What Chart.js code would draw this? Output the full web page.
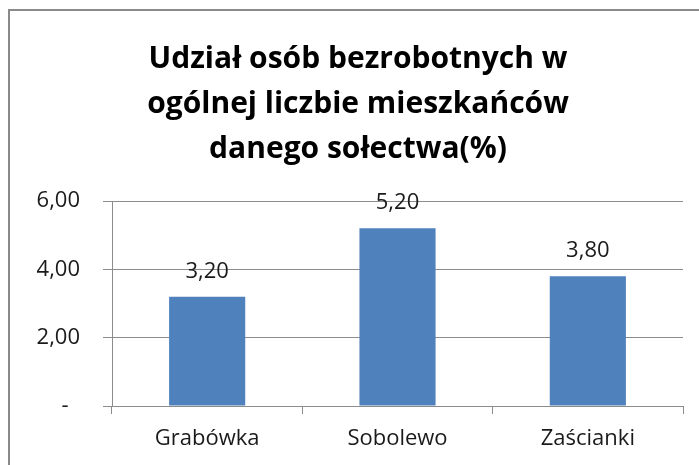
<!DOCTYPE html>
<html lang="pl">
<head>
<meta charset="utf-8">
<title>Udział osób bezrobotnych</title>
<script src="https://cdn.jsdelivr.net/npm/chart.js@4.4.1/dist/chart.umd.min.js"></script>
<style>
    html, body { margin: 0; padding: 0; background: #ffffff; overflow: hidden; }
    #wrap { position: relative; width: 699px; height: 465px; }
    /* Excel-style chart frame, cut off on the right and at the bottom */
    #frame {
        position: absolute; left: 8px; top: 9px; width: 720px; height: 500px;
        border-left: 2px solid #8a8a8a; border-top: 2px solid #8a8a8a;
        pointer-events: none;
    }
    #chart { position: absolute; left: 0; top: 0; }
</style>
</head>
<body>
<div id="wrap">
    <canvas id="chart" width="699" height="465"></canvas>
    <div id="frame"></div>
</div>
<script>
// ---- data ----
const titleLines = ['Udział osób bezrobotnych w', 'ogólnej liczbie mieszkańców', 'danego sołectwa(%)'];
const villages = ['Grabówka', 'Sobolewo', 'Zaścianki'];
const unemployedShare = [3.2, 5.2, 3.8];
const yTicks = [0, 2, 4, 6];
// accounting-style zero: dash sits a little left of the digits' right edge
const yTickLabels = ['-  ', '2,00', '4,00', '6,00'];

const FONT = '"Open Sans", Lato, sans-serif';
const GRID = '#8c8c8c';
const TEXT = '#1a1a1a';

// Polish number format: 3.2 -> "3,20"
const fmt = v => v.toFixed(2).replace('.', ',');

// Value labels above each bar (no datalabels plugin available offline)
const barValueLabels = {
    id: 'barValueLabels',
    afterDatasetsDraw(chart) {
        const ctx = chart.ctx;
        const meta = chart.getDatasetMeta(0);
        ctx.save();
        ctx.font = '22px ' + FONT;
        ctx.fillStyle = TEXT;
        ctx.textAlign = 'center';
        ctx.textBaseline = 'alphabetic';
        meta.data.forEach((bar, i) => {
            ctx.fillText(fmt(unemployedShare[i]), bar.x, bar.y - 19);
        });
        ctx.restore();
    }
};

new Chart(document.getElementById('chart'), {
    type: 'bar',
    data: {
        labels: villages,
        datasets: [{
            data: unemployedShare,
            backgroundColor: '#4f81bd',
            borderWidth: 0,
            categoryPercentage: 1,
            barPercentage: 0.4
        }]
    },
    options: {
        responsive: false,
        animation: false,
        // left padding + y width keep the plot at x=112 and nudge the title right
        layout: { padding: { left: 33, right: 16, top: 10, bottom: 0 } },
        plugins: {
            legend: { display: false },
            tooltip: { enabled: false },
            title: {
                display: true,
                text: titleLines,
                color: '#000000',
                font: { family: FONT, size: 30, weight: 'bold', lineHeight: '45px' },
                padding: { top: 27, bottom: 29 }
            }
        },
        scales: {
            x: {
                grid: {
                    offset: true,
                    drawOnChartArea: false,
                    drawTicks: true,
                    tickLength: 8,
                    color: GRID
                },
                border: { display: true, color: GRID, width: 1 },
                ticks: {
                    color: TEXT,
                    font: { family: FONT, size: 22 },
                    padding: 12
                },
                afterFit(scale) { scale.height = 59; }
            },
            y: {
                min: 0,
                max: 6,
                afterBuildTicks(scale) {
                    scale.ticks = yTicks.map(v => ({ value: v }));
                },
                grid: { color: GRID, tickLength: 9, drawTicks: true },
                border: { display: true, color: GRID, width: 1 },
                ticks: {
                    color: TEXT,
                    font: { family: FONT, size: 22 },
                    padding: 23,
                    callback: (value, index) => yTickLabels[index]
                },
                afterFit(scale) { scale.width = 79; }
            }
        }
    },
    plugins: [barValueLabels]
});
</script>
</body>
</html>
